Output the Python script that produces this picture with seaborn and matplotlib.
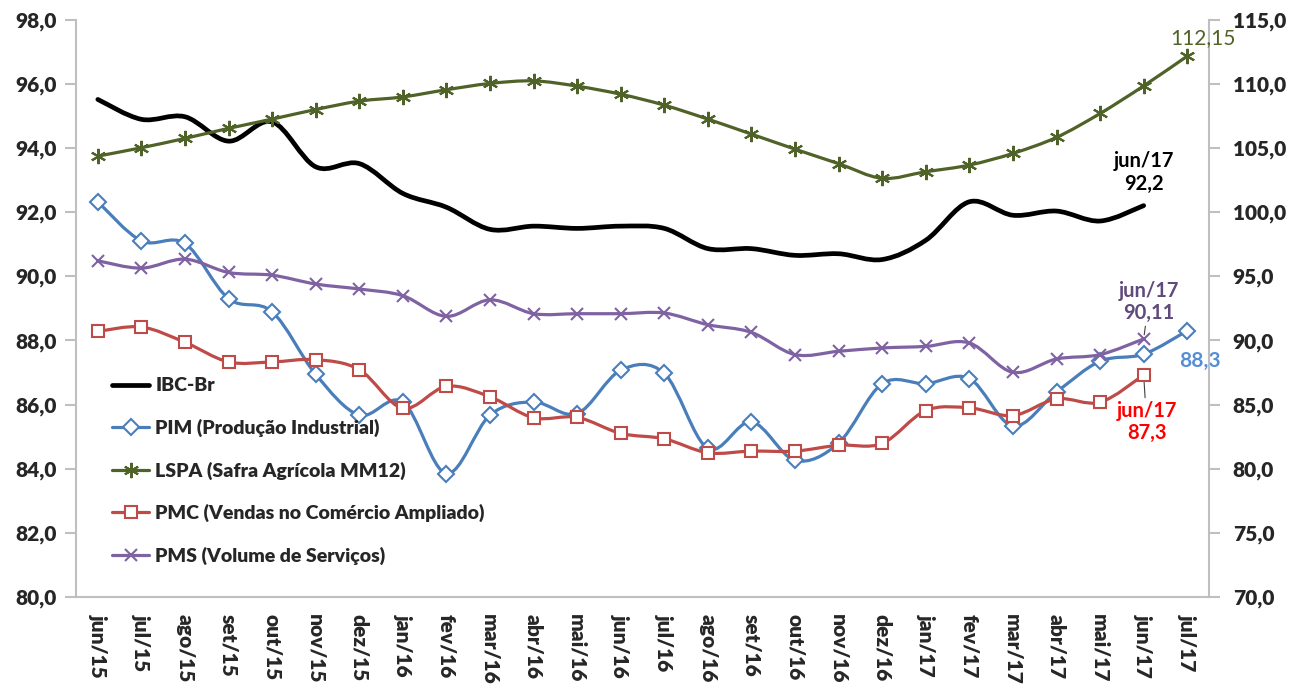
import numpy as np
import seaborn as sns
import matplotlib.pyplot as plt
from matplotlib.path import Path
from matplotlib.patches import PathPatch
from matplotlib.lines import Line2D
from matplotlib.ticker import FuncFormatter, FixedLocator

# Data
months = ["jun/15", "jul/15", "ago/15", "set/15", "out/15", "nov/15", "dez/15",
          "jan/16", "fev/16", "mar/16", "abr/16", "mai/16", "jun/16", "jul/16",
          "ago/16", "set/16", "out/16", "nov/16", "dez/16", "jan/17", "fev/17",
          "mar/17", "abr/17", "mai/17", "jun/17", "jul/17"]

# left axis
ibc = [95.51, 94.89, 94.97, 94.21, 94.81, 93.41, 93.51, 92.58, 92.15, 91.46,
       91.56, 91.49, 91.56, 91.49, 90.86, 90.86, 90.65, 90.70, 90.52, 91.12,
       92.32, 91.90, 92.03, 91.72, 92.20]
pim = [92.32, 91.10, 91.02, 89.30, 88.89, 86.94, 85.67, 86.08, 83.85, 85.67,
       86.08, 85.72, 87.07, 86.97, 84.63, 85.46, 84.26, 84.80, 86.65, 86.65,
       86.81, 85.33, 86.39, 87.35, 87.57, 88.30]

# right axis
lspa = [104.36, 105.01, 105.74, 106.52, 107.24, 107.99, 108.64, 108.97, 109.53,
        110.02, 110.22, 109.81, 109.18, 108.33, 107.24, 106.07, 104.90, 103.77,
        102.63, 103.14, 103.66, 104.57, 105.82, 107.68, 109.83, 112.15]
pmc = [90.70, 91.04, 89.85, 88.32, 88.32, 88.50, 87.72, 84.71, 86.42, 85.60,
       83.97, 84.00, 82.75, 82.33, 81.24, 81.37, 81.37, 81.83, 81.97, 84.53,
       84.74, 84.14, 85.44, 85.18, 87.30]
pms = [96.20, 95.63, 96.33, 95.29, 95.08, 94.39, 94.00, 93.48, 91.87, 93.16,
       92.08, 92.08, 92.08, 92.13, 91.22, 90.62, 88.89, 89.15, 89.41, 89.53,
       89.80, 87.51, 88.55, 88.89, 90.11]

names = ["IBC-Br", "PIM (Produção Industrial)", "LSPA (Safra Agrícola MM12)",
         "PMC (Vendas no Comércio Ampliado)", "PMS (Volume de Serviços)"]

C_IBC, C_PIM, C_LSPA, C_PMC, C_PMS = "#000000", "#4A7EBB", "#4F6228", "#BE4B48", "#7E62A1"
GRAY = "#BFBFBF"
W = 'heavy'

sns.set_style("white")
plt.rcParams['font.family'] = ['Lato', 'DejaVu Sans']


def smooth_path(ys):
    # Excel-like smoothed line: cubic bezier through the points
    pts = np.column_stack([np.arange(len(ys)), ys]).astype(float)
    n = len(pts)
    verts = [pts[0]]
    codes = [Path.MOVETO]
    for i in range(n - 1):
        p0 = pts[i - 1] if i > 0 else pts[i]
        p1, p2 = pts[i], pts[i + 1]
        p3 = pts[i + 2] if i + 2 < n else pts[i + 1]
        verts += [p1 + (p2 - p0) / 6, p2 - (p3 - p1) / 6, p2]
        codes += [Path.CURVE4] * 3
    return Path(verts, codes)


def draw_series(ax, ys, color, lw, marker=None, ms=8, mew=1.5, z=3):
    ax.add_patch(PathPatch(smooth_path(ys), fill=False, edgecolor=color, lw=lw,
                           capstyle='round', joinstyle='round', zorder=z))
    if marker:
        fc = 'white' if marker in ('D', 's') else color
        sns.lineplot(x=np.arange(len(ys)), y=ys, ax=ax, color=color, linewidth=0,
                     marker=marker, markersize=ms, markerfacecolor=fc,
                     markeredgecolor=color, markeredgewidth=mew, zorder=z + 0.5)


fig = plt.figure(figsize=(12.91, 6.86), dpi=100)
ax = fig.add_axes([0.0589, 0.1297, 0.8776, 0.8418])
ax2 = ax.twinx()

draw_series(ax, pim, C_PIM, 2.3, 'D', ms=8, z=3)
draw_series(ax, ibc, C_IBC, 3.4, None, z=4)
draw_series(ax2, pmc, C_PMC, 2.3, 's', ms=8.5, z=3)
draw_series(ax2, pms, C_PMS, 2.3, 'x', ms=9, mew=1.5, z=3)
draw_series(ax2, lspa, C_LSPA, 2.3, (6, 2, 0), ms=11, mew=1.5, z=3)

n = len(months)
for a in (ax, ax2):
    a.set_xlim(-0.5, n - 0.5)
    a.set_xlabel("")
    a.set_ylabel("")
    for s in a.spines.values():
        s.set_color(GRAY)
        s.set_linewidth(1.5)
    a.spines['top'].set_visible(False)

ax.set_ylim(80, 98)
ax.set_yticks(np.arange(80, 98.1, 2))
ax2.set_ylim(70, 115)
ax2.set_yticks(np.arange(70, 115.1, 5))
fmt = FuncFormatter(lambda v, p: f"{v:.1f}".replace(".", ","))
ax.yaxis.set_major_formatter(fmt)
ax2.yaxis.set_major_formatter(fmt)
ax.spines['right'].set_visible(False)
ax2.spines['left'].set_visible(False)
ax2.spines['bottom'].set_visible(False)

ax.set_xticks(np.arange(n))
ax.set_xticklabels(months, rotation=-90, fontsize=15, fontweight=W,
                   va='top', ha='center')
ax.xaxis.set_minor_locator(FixedLocator(np.arange(-0.5, n, 1)))
ax.tick_params(axis='x', which='major', length=0, pad=12)
ax.tick_params(axis='x', which='minor', length=8, color=GRAY, width=1.5, direction='out')
ax.tick_params(axis='y', length=8, color=GRAY, width=1.5, direction='out',
               labelsize=15, pad=6)
ax2.tick_params(axis='y', length=8, color=GRAY, width=1.5, direction='out',
                labelsize=15, pad=9)
for lab in ax.get_yticklabels() + ax2.get_yticklabels():
    lab.set_fontweight(W)

# data labels
ax.annotate(f"{months[24]}\n{ibc[24]:.1f}".replace(".", ","), (24, ibc[24]),
            xytext=(0, 12), textcoords='offset pixels', ha='center', va='bottom',
            fontsize=14.5, fontweight='bold', color='black', linespacing=1.15)
ax2.annotate(f"{months[24]}\n{pms[24]:.2f}".replace(".", ","), (24, pms[24]),
             xytext=(5, 16), textcoords='offset pixels', ha='center', va='bottom',
             fontsize=14.5, fontweight='bold', color="#604A7B", linespacing=1.15,
             arrowprops=dict(arrowstyle='-', color='#404040', lw=0.8, shrinkA=0, shrinkB=3))
ax.annotate(f"{pim[25]:.1f}".replace(".", ","), (25, pim[25]),
            xytext=(13, -30), textcoords='offset pixels', ha='center', va='center',
            fontsize=15, fontweight='bold', color="#558ED5",
            arrowprops=dict(arrowstyle='-', color='#404040', lw=0.8, shrinkA=9, shrinkB=3))
ax2.annotate(f"{months[24]}\n{pmc[24]:.1f}".replace(".", ","), (24, pmc[24]),
             xytext=(3, -26), textcoords='offset pixels', ha='center', va='top',
             fontsize=14.5, fontweight='bold', color="#FF0000", linespacing=1.15,
             arrowprops=dict(arrowstyle='-', color='#404040', lw=0.8, shrinkA=0, shrinkB=5))
ax2.annotate(f"{lspa[25]:.2f}".replace(".", ","), (25, lspa[25]),
             xytext=(16, 18), textcoords='offset pixels', ha='center', va='center',
             fontsize=15, fontweight='normal', color=C_LSPA)

# legend
handles = [
    Line2D([], [], color=C_IBC, lw=3.4),
    Line2D([], [], color=C_PIM, lw=2.3, marker='D', ms=8, mfc='white', mec=C_PIM, mew=1.5),
    Line2D([], [], color=C_LSPA, lw=2.3, marker=(6, 2, 0), ms=11, mec=C_LSPA, mew=1.5),
    Line2D([], [], color=C_PMC, lw=2.3, marker='s', ms=8.5, mfc='white', mec=C_PMC, mew=1.5),
    Line2D([], [], color=C_PMS, lw=2.3, marker='x', ms=9, mec=C_PMS, mew=1.5),
]
leg = ax2.legend(handles, names, loc='upper left', bbox_to_anchor=(95 / 1291, 1 - 360 / 686),
                 bbox_transform=fig.transFigure, frameon=False, fontsize=14,
                 handlelength=1.9, handletextpad=0.3, labelspacing=1.25)
for t in leg.get_texts():
    t.set_fontweight(W)
leg.set_zorder(10)

fig.savefig("out.png", dpi=100)
